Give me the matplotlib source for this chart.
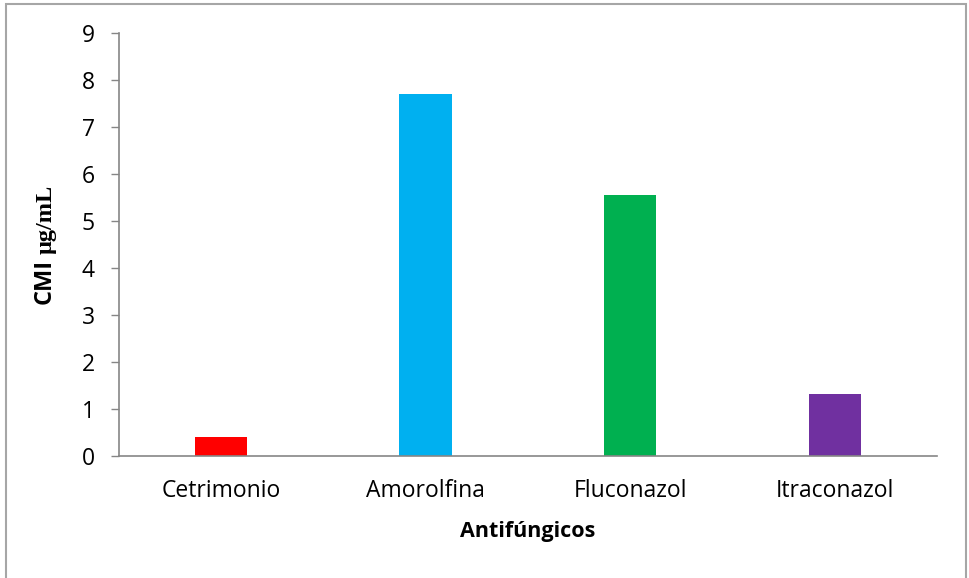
import matplotlib
matplotlib.use("Agg")
import matplotlib.pyplot as plt
from matplotlib.patches import Rectangle

categories = ["Cetrimonio", "Amorolfina", "Fluconazol", "Itraconazol"]
cmi_values = [0.41, 7.71, 5.56, 1.33]
bar_colors = ["#FF0000", "#00B0F0", "#00B050", "#7030A0"]
y_ticks = list(range(0, 10))

W, H = 969, 578
fig = plt.figure(figsize=(W / 100, H / 100), dpi=100)
fig.patch.set_facecolor("white")

# outer chart frame
fig.patches.append(Rectangle((6 / W, -0.05), 960 / W, 1.05 - 4 / H,
                             transform=fig.transFigure, fill=False,
                             edgecolor="#A6A6A6", linewidth=1.5))

left, right = 118.5 / W, 937 / W
bottom, top = (H - 456.3) / H, (H - 33.3) / H
ax = fig.add_axes([left, bottom, right - left, top - bottom])

x = range(len(categories))
ax.bar(x, cmi_values, width=0.255, color=bar_colors)

ax.set_xlim(-0.5, len(categories) - 0.5)
ax.set_ylim(0, 9)
ax.set_yticks(y_ticks)
ax.set_xticks(list(x))
ax.set_xticklabels(categories)

for s in ["top", "right"]:
    ax.spines[s].set_visible(False)
for s in ["left", "bottom"]:
    ax.spines[s].set_color("#868686")
    ax.spines[s].set_linewidth(1.2)

font = "Open Sans"
ax.tick_params(axis="y", direction="out", length=6, width=1, color="#868686",
               pad=11, labelsize=16.5)
ax.tick_params(axis="x", length=0, pad=16, labelsize=16.5)
for lbl in ax.get_xticklabels() + ax.get_yticklabels():
    lbl.set_fontfamily(font)

fig.text(528 / W, 1 - 532 / H, "Antifúngicos", ha="center", va="center",
         fontsize=15.5, fontweight="bold", family=font)

# y-axis title: sans "CMI" followed by serif unit
fig.text(45 / W, 1 - 304 / H, "CMI", rotation=90, ha="center", va="bottom",
         fontsize=17, fontweight="bold", family=font)
fig.text(46 / W, 1 - 254 / H, "μg/mL", rotation=90, ha="center", va="bottom",
         fontsize=17.5, fontweight="bold", family="Liberation Serif")

fig.savefig("out.png", dpi=100, facecolor="white")
